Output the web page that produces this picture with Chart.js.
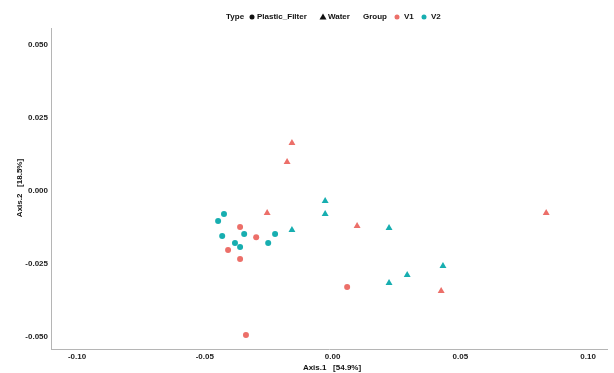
<!DOCTYPE html>
<html>
<head>
<meta charset="utf-8">
<script src="https://cdn.jsdelivr.net/npm/chart.js@4.4.1/dist/chart.umd.min.js"></script>
<style>
html,body{margin:0;padding:0;background:#fff;}
#wrap{position:relative;width:614px;height:373px;}
</style>
</head>
<body>
<div id="wrap"><canvas id="c" width="614" height="373"></canvas></div>
<script>
// ---- data ----
const xTicks = [-0.10, -0.05, 0.00, 0.05, 0.10];
const yTicks = [-0.050, -0.025, 0.000, 0.025, 0.050];

const filterV1X = [-0.0362, -0.0299, -0.0409, -0.0362, 0.0057, -0.0339];
const filterV1Y = [-0.0123, -0.0158, -0.0202, -0.0233, -0.0329, -0.0493];

const filterV2X = [-0.0425, -0.0448, -0.0432, -0.0346, -0.0382, -0.0362, -0.0252, -0.0225];
const filterV2Y = [-0.0079, -0.0103, -0.0154, -0.0147, -0.0178, -0.0192, -0.0178, -0.0147];

const waterV1X = [-0.0256, -0.0159, -0.0178, 0.0096, 0.0836, 0.0425];
const waterV1Y = [-0.0075, 0.0164, 0.0099, -0.0120, -0.0075, -0.0342];

const waterV2X = [-0.0159, -0.0029, -0.0029, 0.0221, 0.0432, 0.0292, 0.0221];
const waterV2Y = [-0.0134, -0.0034, -0.0079, -0.0127, -0.0257, -0.0288, -0.0315];

const xTitle = 'Axis.1   [54.9%]';
const yTitle = 'Axis.2   [18.5%]';

const RED = '#EC6F69';
const TEAL = '#17AEB0';
const FONT = '"Liberation Sans", Arial, sans-serif';

function pts(xs, ys){ return xs.map((x,i)=>({x:x, y:ys[i]})); }

const legendPlugin = {
  id: 'customLegendTitles',
  afterDraw(chart){
    const ctx = chart.ctx;
    ctx.save();
    ctx.fillStyle = '#111';
    ctx.font = 'bold 8px ' + FONT;
    ctx.textBaseline = 'middle';
    ctx.textAlign = 'left';
    const y = 17;
    ctx.fillText('Type', 226, y);
    ctx.beginPath(); ctx.arc(252, y, 2.5, 0, Math.PI*2); ctx.fill();
    ctx.fillText('Plastic_Filter', 257, y);
    ctx.beginPath(); ctx.moveTo(323, y-3.5); ctx.lineTo(326.5, y+2.5); ctx.lineTo(319.5, y+2.5); ctx.closePath(); ctx.fill();
    ctx.fillText('Water', 328, y);
    ctx.fillText('Group', 363, y);
    ctx.fillStyle = RED; ctx.beginPath(); ctx.arc(397, y, 2.5, 0, Math.PI*2); ctx.fill();
    ctx.fillStyle = '#111'; ctx.fillText('V1', 404, y);
    ctx.fillStyle = TEAL; ctx.beginPath(); ctx.arc(424, y, 2.5, 0, Math.PI*2); ctx.fill();
    ctx.fillStyle = '#111'; ctx.fillText('V2', 431, y);

    // axis titles
    const a = chart.chartArea;
    ctx.textAlign = 'center';
    ctx.fillText(xTitle, 332, 368);
    ctx.translate(20, 188);
    ctx.rotate(-Math.PI/2);
    ctx.fillText(yTitle, 0, 0);
    ctx.restore();
  }
};

new Chart(document.getElementById('c'), {
  type: 'scatter',
  data: {
    datasets: [
      {label:'Plastic_Filter V1', data: pts(filterV1X, filterV1Y), pointStyle:'circle', pointRadius:3, backgroundColor:RED, borderColor:RED, borderWidth:0},
      {label:'Plastic_Filter V2', data: pts(filterV2X, filterV2Y), pointStyle:'circle', pointRadius:3, backgroundColor:TEAL, borderColor:TEAL, borderWidth:0},
      {label:'Water V1', data: pts(waterV1X, waterV1Y), pointStyle:'triangle', pointRadius:4, backgroundColor:RED, borderColor:RED, borderWidth:0},
      {label:'Water V2', data: pts(waterV2X, waterV2Y), pointStyle:'triangle', pointRadius:4, backgroundColor:TEAL, borderColor:TEAL, borderWidth:0}
    ]
  },
  options: {
    responsive: false,
    animation: false,
    events: [],
    layout: {padding: {top: 28, right: 7, left: 0, bottom: 0}},
    plugins: {legend: {display:false}, tooltip:{enabled:false}},
    scales: {
      x: {
        type: 'linear',
        min: -0.1102, max: 0.1074,
        afterBuildTicks: s => { s.ticks = xTicks.map(v => ({value:v})); },
        afterFit: s => { s.height = 24; },
        grid: {display:false, drawTicks:false},
        border: {display:true, color:'#B5B5B5', width:1},
        ticks: {padding: 3, color:'#222', font:{family:FONT, size:8, weight:'bold'}, maxRotation:0, autoSkip:false,
                callback: v => v.toFixed(2)}
      },
      y: {
        type: 'linear',
        min: -0.0541, max: 0.0558,
        afterBuildTicks: s => { s.ticks = yTicks.map(v => ({value:v})); },
        afterFit: s => { s.width = 51; },
        grid: {display:false, drawTicks:false},
        border: {display:true, color:'#B5B5B5', width:1},
        ticks: {padding: 3, color:'#222', font:{family:FONT, size:8, weight:'bold'}, autoSkip:false,
                callback: v => v.toFixed(3)}
      }
    }
  },
  plugins: [legendPlugin]
});
</script>
</body>
</html>
